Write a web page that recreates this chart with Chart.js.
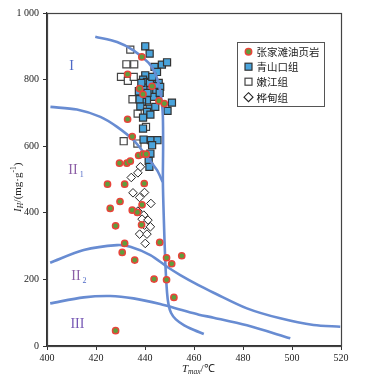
<!DOCTYPE html>
<html><head><meta charset="utf-8">
<script src="https://cdn.jsdelivr.net/npm/chart.js@4/dist/chart.umd.min.js"></script>
<style>html,body{margin:0;padding:0;background:#fff}</style>
</head><body>
<canvas id="c" width="375" height="383" style="display:block;width:375px;height:383px"></canvas>
<script>
// ---- axis ticks ----
const xTicks = [400, 420, 440, 460, 480, 500, 520];
const yTicks = [0, 200, 400, 600, 800, 1000];

// ---- series names ----
const seriesNames = ['张家滩油页岩', '青山口组', '嫩江组', '桦甸组'];

// ---- 张家滩油页岩 (green circles) ----
const zjtT  = [438.7,432.9,437.8,439.2,442.9,445.7,447.9,432.9,434.8,437.4,439.2,440.5,429.6,432.6,434.0,424.7,431.7,439.7,425.8,429.8,434.8,436.9,438.8,438.6,428.0,431.7,430.7,435.8,446.0,448.8,450.9,455.0,443.7,448.8,451.8,428.0];
const zjtIH = [868,816,773,756,780,736,728,681,629,572,576,576,549,549,555,486,486,488,413,434,408,401,424,364,361,308,281,258,311,265,247,271,201,199,146,46];

// ---- 青山口组 (blue squares) ----
const qskT  = [440.1,441.9,443.9,446.9,449.0,444.9,440.1,439.2,440.8,442.9,445.6,446.2,444.2,440.1,442.2,444.6,440.1,443.5,440.8,438.8,451.0,449.2,438.1,441.9,440.8,442.2,439.2,444.2,437.8,439.2,439.4,442.4,445.1,442.9,442.2,441.5,441.8,442.0,438.5,443.0,446.0,441.0,437.5];
const qskIH = [900,878,838,845,852,823,813,800,793,798,790,778,780,776,768,763,753,748,738,733,731,706,720,713,703,695,686,718,741,653,620,618,618,603,578,556,538,790,790,808,760,760,765];

// ---- 嫩江组 (open squares) ----
const njT  = [434.0,432.4,435.6,430.2,433.0,435.4,434.9,437.0,440.4,431.3,436.9];
const njIH = [890,846,846,808,796,808,741,698,658,615,608];

// ---- 桦甸组 (open diamonds) ----
const hdT  = [438.1,437.1,434.4,435.1,439.8,437.8,442.4,437.1,439.5,438.8,441.2,439.8,442.2,437.8,440.8,440.1];
const hdIH = [538,520,506,460,461,446,428,405,393,381,378,363,358,336,336,308];

// ---- boundary curves ----
const curveA_T  = [419.7,428.6,435.3,441.5,444.2,446.0,446.9,447.3,447.4,447.3,447.7,448.3,449.0,449.6,450.6,452.6,456.0,460.0,464.0];
const curveA_IH = [929,913,888,850,818,773,728,688,600,495,378,250,160,125,100,80,62,48,36];
const curveB_T  = [401.4,412.2,421.8,428.6,435.3,440.8,444.9,447.2];
const curveB_IH = [718,710,688,658,618,568,528,493];
const curveC_T  = [401.3,415.0,428.6,434.0,442.2,449.0,454.4,462.0,468.0,481.6,495.2,508.8,519.7];
const curveC_IH = [250,288,303,298,273,238,213,182,160,113,83,63,58];
const curveD_T  = [401.3,415.0,425.8,435.3,446.2,455.0,462.0,468.0,481.6,499.3];
const curveD_IH = [128,146,150,143,126,108,94,85,62,23];

// ---- region labels ----
const regionLabels = [
  {main:'I',   sub:'',  T:410.0, IH:843},
  {main:'II',  sub:'1', T:410.6, IH:533},
  {main:'II',  sub:'2', T:411.8, IH:213},
  {main:'III', sub:'',  T:412.4, IH:70}
];

const pts = (xs, ys) => xs.map((x, i) => ({x: x, y: ys[i]}));
const LINE = 'rgb(104,140,210)';
const INK = '#333';

const curveDs = (xs, ys) => ({
  type: 'scatter', data: pts(xs, ys), showLine: true, pointRadius: 0, pointHoverRadius: 0,
  borderColor: LINE, borderWidth: 2.6, tension: 0.3, fill: false, order: 1
});

const framePlugin = {
  id: 'frame',
  afterDraw(chart) {
    const {ctx, chartArea: a, scales} = chart;
    ctx.save();
    ctx.strokeStyle = '#444'; ctx.lineWidth = 1.2;
    ctx.strokeRect(Math.round(a.left) + 0.5, Math.round(a.top) + 0.5, Math.round(a.right - a.left), Math.round(a.bottom - a.top));

    // region labels
    ctx.textBaseline = 'alphabetic';
    regionLabels.forEach(r => {
      const x = scales.x.getPixelForValue(r.T), y = scales.y.getPixelForValue(r.IH);
      ctx.font = '14px "Liberation Serif", serif';
      ctx.fillStyle = r.main === 'I' ? '#4e69c6' : (r.main === 'II' ? '#8c5fa6' : '#7657b4');
      ctx.textAlign = 'left';
      const w = ctx.measureText(r.main).width;
      ctx.fillText(r.main, x - w / 2, y + 5);
      if (r.sub) {
        ctx.font = '8px "Liberation Serif", serif';
        ctx.fillStyle = '#4e69c6';
        ctx.fillText(r.sub, x + w / 2 + 2, y + 8);
      }
    });

    // x title: T_max/℃
    let x = 182, y = 372;
    ctx.fillStyle = '#222'; ctx.textAlign = 'left';
    ctx.font = 'italic 11px "Liberation Serif", serif';
    ctx.fillText('T', x, y); x += ctx.measureText('T').width;
    ctx.font = 'italic 7.5px "Liberation Serif", serif';
    ctx.fillText('max', x, y + 2); x += ctx.measureText('max').width;
    ctx.font = '11px "Liberation Serif", serif';
    ctx.fillText('/℃', x, y);

    // y title: I_H/(mg·g^-1)
    ctx.save();
    ctx.translate(21, 212);
    ctx.rotate(-Math.PI / 2);
    let p = 0;
    ctx.font = 'italic 11px "Liberation Serif", serif';
    ctx.fillText('I', p, 0); p += ctx.measureText('I').width;
    ctx.font = 'italic 7.5px "Liberation Serif", serif';
    ctx.fillText('H', p, 2); p += ctx.measureText('H').width + 0.5;
    ctx.font = '11px "Liberation Serif", serif';
    ctx.fillText('/(mg·g', p, 0); p += ctx.measureText('/(mg·g').width;
    ctx.font = '7.5px "Liberation Serif", serif';
    ctx.fillText('-1', p, -5); p += ctx.measureText('-1').width;
    ctx.font = '11px "Liberation Serif", serif';
    ctx.fillText(')', p, 0);
    ctx.restore();

    // legend
    const L = 237, T = 42, R = 324, B = 106;
    ctx.fillStyle = '#fff'; ctx.fillRect(L, T, R - L, B - T);
    ctx.strokeStyle = '#555'; ctx.lineWidth = 1;
    ctx.strokeRect(L + 0.5, T + 0.5, R - L, B - T);
    const rows = [51.7, 66.7, 81.7, 97.2];
    const mx = 248.5;
    ctx.beginPath(); ctx.arc(mx, rows[0], 3.2, 0, Math.PI * 2);
    ctx.fillStyle = '#5e9e3c'; ctx.fill(); ctx.strokeStyle = '#e8443a'; ctx.lineWidth = 1.5; ctx.stroke();
    ctx.fillStyle = '#4aa4dc'; ctx.fillRect(mx - 3.5, rows[1] - 3.5, 7, 7);
    ctx.strokeStyle = '#333'; ctx.lineWidth = 1.2; ctx.strokeRect(mx - 3.5, rows[1] - 3.5, 7, 7);
    ctx.strokeStyle = '#444'; ctx.strokeRect(mx - 3.5, rows[2] - 3.5, 7, 7);
    ctx.beginPath(); ctx.moveTo(mx, rows[3] - 4.5); ctx.lineTo(mx + 4.5, rows[3]); ctx.lineTo(mx, rows[3] + 4.5); ctx.lineTo(mx - 4.5, rows[3]); ctx.closePath();
    ctx.lineWidth = 1.1; ctx.strokeStyle = '#222'; ctx.stroke();
    ctx.fillStyle = '#222';
    ctx.font = '10.5px "Noto Sans CJK SC", sans-serif';
    ctx.textBaseline = 'middle';
    seriesNames.forEach((n, i) => ctx.fillText(n, 256.5, rows[i] + 0.5));
    ctx.restore();
  }
};

new Chart(document.getElementById('c'), {
  type: 'scatter',
  data: {
    datasets: [
      {label: seriesNames[0], data: pts(zjtT, zjtIH), pointStyle: 'circle', pointRadius: 3.1, borderWidth: 1.5,
       backgroundColor: '#5e9e3c', borderColor: '#e8443a', order: 0},
      curveDs(curveA_T, curveA_IH),
      curveDs(curveB_T, curveB_IH),
      curveDs(curveC_T, curveC_IH),
      curveDs(curveD_T, curveD_IH),
      {label: seriesNames[1], data: pts(qskT, qskIH), pointStyle: 'rect', pointRadius: 5, borderWidth: 1.2,
       backgroundColor: '#4aa4dc', borderColor: '#333', order: 2},
      {label: seriesNames[3], data: pts(hdT, hdIH), pointStyle: 'rectRot', pointRadius: 4.3, borderWidth: 1,
       backgroundColor: '#fff', borderColor: '#222', order: 3},
      {label: seriesNames[2], data: pts(njT, njIH), pointStyle: 'rect', pointRadius: 5, borderWidth: 1.2,
       backgroundColor: '#fff', borderColor: '#444', order: 4}
    ]
  },
  options: {
    responsive: false, animation: false, devicePixelRatio: 1,
    layout: {padding: {top: 13, right: 34, left: 0, bottom: 0}},
    plugins: {legend: {display: false}, tooltip: {enabled: false}},
    events: [],
    scales: {
      x: {
        type: 'linear', min: 400, max: 520,
        afterBuildTicks: s => { s.ticks = xTicks.map(v => ({value: v})); },
        afterFit: s => { s.height = 37; },
        grid: {drawOnChartArea: false, drawTicks: true, tickLength: 4, color: INK, lineWidth: 1},
        border: {display: true, color: INK, width: 1.2},
        ticks: {padding: 2, color: '#222', font: {family: '"Liberation Serif", serif', size: 10}, maxRotation: 0}
      },
      y: {
        type: 'linear', min: 0, max: 1000,
        afterBuildTicks: s => { s.ticks = yTicks.map(v => ({value: v})); },
        afterFit: s => { s.width = 47; },
        grid: {drawOnChartArea: false, drawTicks: true, tickLength: 4, color: INK, lineWidth: 1},
        border: {display: true, color: INK, width: 1.2},
        ticks: {padding: 4, color: '#222', font: {family: '"Liberation Serif", serif', size: 10},
                callback: v => v === 1000 ? '1 000' : String(v)}
      }
    }
  },
  plugins: [framePlugin]
});
</script>
</body></html>
